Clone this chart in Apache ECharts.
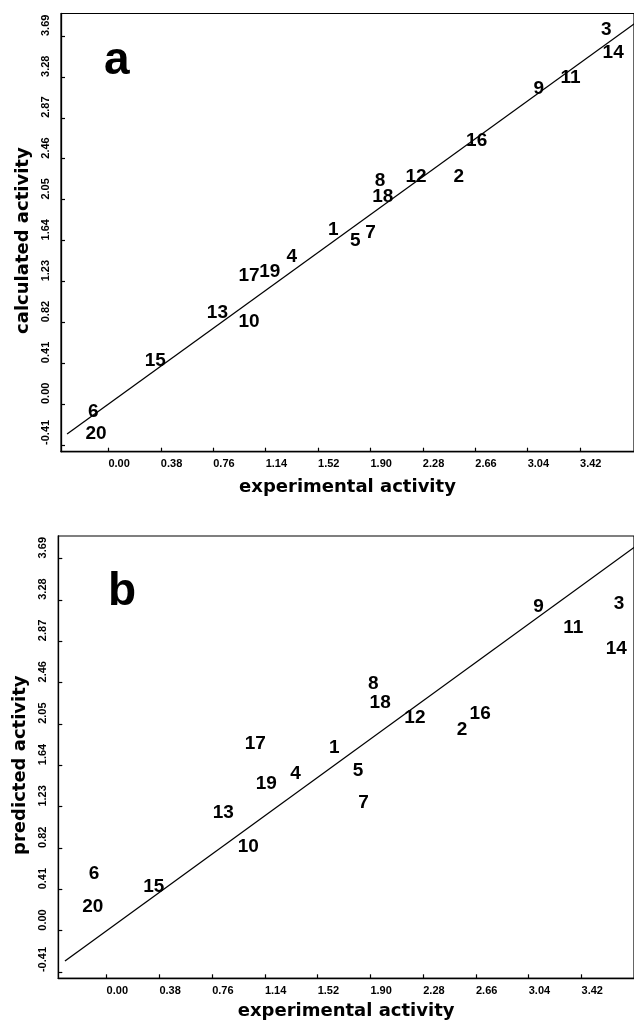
<!DOCTYPE html>
<html>
<head>
<meta charset="utf-8">
<script src="https://cdn.jsdelivr.net/npm/echarts@6/dist/echarts.min.js"></script>
<style>
  html, body { margin: 0; padding: 0; background: #fff; }
  #chart { width: 634px; height: 1022px; }
</style>
</head>
<body>
<div id="chart"></div>
<script>
// Compound numbers used as point labels
const compoundIds = ['1','2','3','4','5','6','7','8','9','10',
                     '11','12','13','14','15','16','17','18','19','20'];

// Panel a: experimental vs calculated activity
const experimentalA = [1.63, 2.54, 3.61, 1.33, 1.79, -0.11, 1.90, 1.97, 3.12, 1.02,
                       3.35, 2.23, 0.79, 3.66, 0.34, 2.67, 1.02, 1.99, 1.17, -0.09];
const calculatedA   = [1.75, 2.28, 3.75, 1.48, 1.64, -0.08, 1.72, 2.24, 3.16, 0.82,
                       3.27, 2.28, 0.92, 3.52, 0.43, 2.64, 1.29, 2.08, 1.33, -0.30];

// Panel b: experimental vs predicted activity
const experimentalB = [1.64, 2.56, 3.69, 1.36, 1.81, -0.09, 1.85, 1.92, 3.11, 1.02,
                       3.36, 2.22, 0.84, 3.67, 0.34, 2.69, 1.07, 1.97, 1.15, -0.10];
const predictedB    = [1.81, 1.99, 3.24, 1.56, 1.59, 0.56, 1.27, 2.45, 3.21, 0.83,
                       3.00, 2.11, 1.17, 2.79, 0.44, 2.15, 1.85, 2.26, 1.46, 0.24];

// Identity line (y = x)
const identityLine = [[-0.30, -0.30], [3.90, 3.90]];

// Tick values
const xTicks = [0.00, 0.38, 0.76, 1.14, 1.52, 1.90, 2.28, 2.66, 3.04, 3.42];
const yTicks = [-0.41, 0.00, 0.41, 0.82, 1.23, 1.64, 2.05, 2.46, 2.87, 3.28, 3.69];

const chart = echarts.init(document.getElementById('chart'), null, { renderer: 'canvas' });

const tickFont = { fontFamily: 'Liberation Sans', fontWeight: 'bold', fontSize: 11, color: '#000' };
const nameFont = { fontFamily: 'DejaVu Sans', fontWeight: 'bold', fontSize: 18, color: '#000' };

function xAxisFor(gridIndex, min, max, nameGap) {
  return {
    type: 'value', gridIndex, min, max,
    name: 'experimental activity', nameLocation: 'middle', nameGap,
    nameTextStyle: nameFont,
    axisLine: { onZero: false, lineStyle: { color: '#000', width: 1.3 } },
    axisTick: { inside: true, length: 4, customValues: xTicks, lineStyle: { color: '#000', width: 1.2 } },
    axisLabel: Object.assign({
      customValues: xTicks, align: 'left', margin: 7,
      formatter: v => v.toFixed(2)
    }, tickFont),
    splitLine: { show: false }
  };
}

function yAxisFor(gridIndex, min, max, name, nameGap) {
  return {
    type: 'value', gridIndex, min, max,
    name, nameLocation: 'middle', nameGap,
    nameTextStyle: Object.assign({ padding: [0, 16, 0, 0] }, nameFont),
    axisLine: { onZero: false, lineStyle: { color: '#000', width: 1.3 } },
    axisTick: { inside: true, length: 4, customValues: yTicks, lineStyle: { color: '#000', width: 1.2 } },
    axisLabel: Object.assign({
      customValues: yTicks, rotate: 90, align: 'left', verticalAlign: 'bottom', margin: 10,
      formatter: v => v.toFixed(2)
    }, tickFont),
    splitLine: { show: false }
  };
}

function labelSeries(idx, xs, ys) {
  return {
    type: 'scatter', xAxisIndex: idx, yAxisIndex: idx,
    symbol: 'circle', symbolSize: 1,
    itemStyle: { color: 'rgba(0,0,0,0)', opacity: 1 },
    label: {
      show: true, position: 'inside', opacity: 1,
      formatter: p => p.name,
      fontFamily: 'Liberation Sans', fontWeight: 'bold', fontSize: 19, color: '#000'
    },
    emphasis: { disabled: true },
    data: compoundIds.map((id, i) => ({ name: id, value: [xs[i], ys[i]] })),
    z: 3
  };
}

function lineSeries(idx) {
  return {
    type: 'line', xAxisIndex: idx, yAxisIndex: idx,
    data: identityLine, symbol: 'none', silent: true,
    lineStyle: { color: '#000', width: 1.3 }, z: 2
  };
}

chart.setOption({
  backgroundColor: '#fff',
  animation: false,
  grid: [
    { left: 61, right: -10, top: 13.5, height: 438.2, show: true, borderColor: '#000', borderWidth: 1.2, containLabel: false },
    { left: 58.3, right: -8, top: 536, height: 442.3, show: true, borderColor: '#000', borderWidth: 1.2, containLabel: false }
  ],
  xAxis: [
    xAxisFor(0, -0.344, 3.811, 27),
    xAxisFor(1, -0.348, 3.798, 24)
  ],
  yAxis: [
    yAxisFor(0, -0.478, 3.916, 'calculated activity', 29),
    yAxisFor(1, -0.472, 3.912, 'predicted activity', 26)
  ],
  series: [
    lineSeries(0), labelSeries(0, experimentalA, calculatedA),
    lineSeries(1), labelSeries(1, experimentalB, predictedB)
  ],
  graphic: [
    { type: 'text', style: { text: 'a', x: 104, y: 61, fontFamily: 'Liberation Sans', fontWeight: 'bold', fontSize: 46, fill: '#000', verticalAlign: 'middle' } },
    { type: 'text', style: { text: 'b', x: 108, y: 592, fontFamily: 'Liberation Sans', fontWeight: 'bold', fontSize: 46, fill: '#000', verticalAlign: 'middle' } }
  ]
});
</script>
</body>
</html>
